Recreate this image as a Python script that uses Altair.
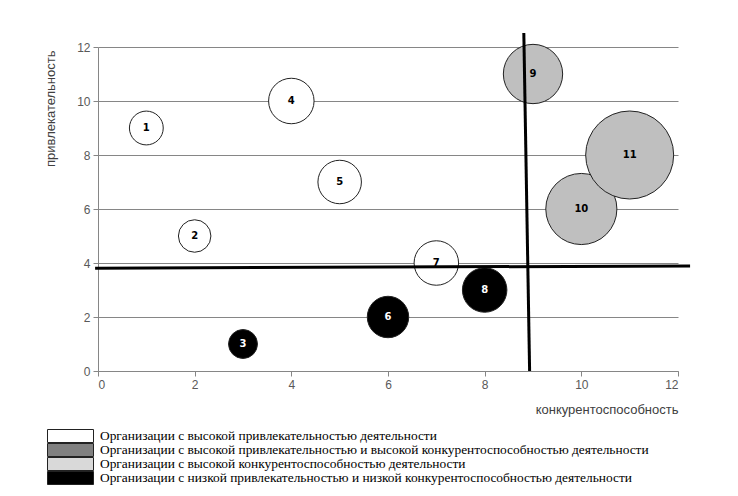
import altair as alt
import pandas as pd

# ---- data ----
ids = ["1", "2", "3", "4", "5", "6", "7", "8", "9", "10", "11"]
competitiveness = [1, 2, 3, 4, 5, 6, 7, 8, 9, 10, 11]
attractiveness = [9, 5, 1, 10, 7, 2, 4, 3, 11, 6, 8]
bubble_size = [1.3, 1.2, 0.95, 2.35, 2.15, 1.95, 2.25, 2.25, 4.0, 5.75, 8.8]
bubble_group = ["white", "white", "black", "white", "white", "black",
                "white", "black", "gray", "gray", "gray"]

group_fill = {"white": "#FFFFFF", "gray": "#BFBFBF", "black": "#000000"}
group_text = {"white": "#000000", "gray": "#000000", "black": "#FFFFFF"}

legend_labels = [
    "Организации с высокой привлекательностью деятельности",
    "Организации с высокой привлекательностью и высокой конкурентоспособностью деятельности",
    "Организации с высокой конкурентоспособностью деятельности",
    "Организации с низкой привлекательностью и низкой конкурентоспособностью деятельности",
]
legend_colors = ["#FFFFFF", "#808080", "#D9D9D9", "#000000"]

# separating lines (start/end in data units)
line_x1 = [-0.06, 8.81]
line_y1 = [3.81, 12.52]
line_x2 = [12.25, 8.93]
line_y2 = [3.89, 0.0]

ticks = [0, 2, 4, 6, 8, 10, 12]

df = pd.DataFrame({
    "id": ids,
    "x": competitiveness,
    "y": attractiveness,
    "s": bubble_size,
    "fill": [group_fill[g] for g in bubble_group],
    "tcol": [group_text[g] for g in bubble_group],
})
lines_df = pd.DataFrame({"x1": line_x1, "y1": line_y1, "x2": line_x2, "y2": line_y2})
legend_df = pd.DataFrame({"cat": legend_labels})

xscale = alt.Scale(domain=[0, 12], nice=False, zero=False)
yscale = alt.Scale(domain=[0, 12], nice=False, zero=False)

base = alt.Chart(df)

bubbles = base.mark_circle(opacity=1, stroke="#222222", strokeWidth=1).encode(
    x=alt.X("x:Q", scale=xscale, axis=alt.Axis(
        values=ticks, grid=False, title="конкурентоспособность",
        titleAnchor="end", titlePadding=13)),
    y=alt.Y("y:Q", scale=yscale, axis=alt.Axis(
        values=ticks, grid=True, title="привлекательность",
        titleAnchor="end", titleX=-44, titleY=3, titleAlign="right",
        titleBaseline="alphabetic", titleAngle=270)),
    size=alt.Size("s:Q", scale=alt.Scale(domain=[0, 10], range=[0, 8800]), legend=None),
    fill=alt.Fill("fill:N", scale=None),
)

labels = base.mark_text(font="DejaVu Sans", fontWeight="bold", fontSize=10).encode(
    x=alt.X("x:Q", scale=xscale),
    y=alt.Y("y:Q", scale=yscale),
    text="id:N",
    color=alt.Color("tcol:N", scale=None),
)

rules = alt.Chart(lines_df).mark_rule(color="black", strokeWidth=3).encode(
    x=alt.X("x1:Q", scale=xscale),
    y=alt.Y("y1:Q", scale=yscale),
    x2="x2:Q",
    y2="y2:Q",
)

legend_layer = alt.Chart(legend_df).mark_square(
    opacity=0, filled=True, stroke="black", strokeWidth=1
).encode(
    fill=alt.Fill("cat:N", sort=legend_labels,
                  scale=alt.Scale(domain=legend_labels, range=legend_colors),
                  legend=alt.Legend(
                      title=None, orient="none", legendX=-51, legendY=382,
                      symbolType="M-1,-0.2826H1V0.2826H-1Z", symbolSize=2116,
                      symbolStrokeColor="black", symbolStrokeWidth=1,
                      symbolOpacity=1, rowPadding=0, labelOffset=6,
                      clipHeight=14,
                      labelFont="Liberation Serif", labelFontSize=13.4,
                      labelColor="#000000", labelLimit=0)),
)

chart = alt.layer(legend_layer, bubbles, labels, rules).properties(
    width=580, height=324,
    autosize=alt.AutoSizeParams(type="none"),
    padding={"left": 90, "top": 39, "right": 40, "bottom": 120},
    background="white",
).configure_view(stroke=None).configure_axis(
    domainColor="#868686", tickColor="#868686", tickSize=5,
    gridColor="#868686", gridWidth=1,
    labelFont="Liberation Sans", labelFontSize=12, labelColor="#595959",
    labelPadding=3,
    titleFont="Liberation Sans", titleFontSize=13, titleFontWeight="normal",
    titleColor="#404040",
)

chart.save("out.html", embed_options={"renderer": "svg", "actions": False})
